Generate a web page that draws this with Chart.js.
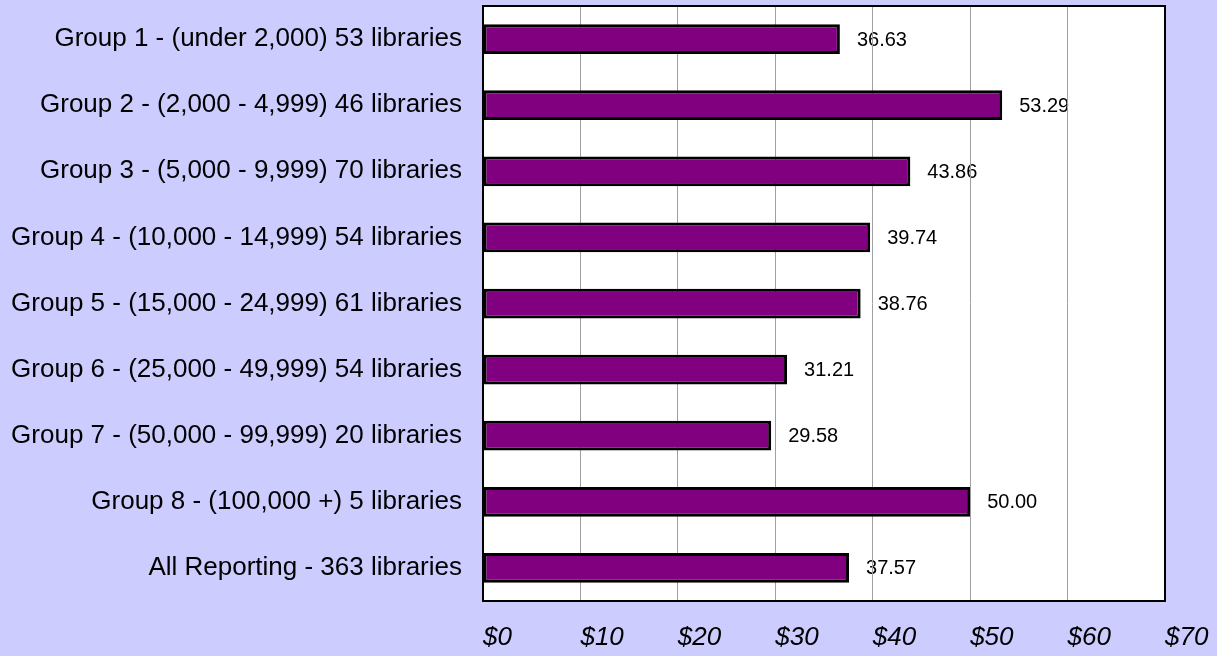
<!DOCTYPE html>
<html>
<head>
<meta charset="utf-8">
<script src="https://cdn.jsdelivr.net/npm/chart.js@4/dist/chart.umd.min.js"></script>
<style>
  html, body { margin: 0; padding: 0; background: #ccccff; }
  #wrap { width: 1217px; height: 656px; }
</style>
</head>
<body>
<div id="wrap"><canvas id="c" width="1217" height="656"></canvas></div>
<script>
const categories = [
  "Group 1 - (under 2,000) 53 libraries",
  "Group 2 - (2,000 - 4,999) 46 libraries",
  "Group 3 - (5,000 - 9,999) 70 libraries",
  "Group 4 - (10,000 - 14,999) 54 libraries",
  "Group 5 - (15,000 - 24,999) 61 libraries",
  "Group 6 - (25,000 - 49,999) 54 libraries",
  "Group 7 - (50,000 - 99,999) 20 libraries",
  "Group 8 - (100,000 +) 5 libraries",
  "All Reporting - 363 libraries"
];
const values = [36.63, 53.29, 43.86, 39.74, 38.76, 31.21, 29.58, 50.00, 37.57];
const xTickLabels = ["$0", "$10", "$20", "$30", "$40", "$50", "$60", "$70"];

const plotBg = {
  id: 'plotBg',
  beforeDraw(chart) {
    const {ctx, chartArea: a} = chart;
    ctx.save();
    ctx.fillStyle = '#ffffff';
    ctx.fillRect(a.left, a.top, a.right - a.left, a.bottom - a.top);
    // value labels drawn under the grid lines, as in the reference
    const meta = chart.getDatasetMeta(0);
    ctx.fillStyle = '#000000';
    ctx.font = '20px "Liberation Sans", Arial, sans-serif';
    ctx.textAlign = 'left';
    ctx.textBaseline = 'middle';
    meta.data.forEach((bar, i) => {
      ctx.fillText(values[i].toFixed(2), bar.x + 17, bar.y + 1);
    });
    ctx.restore();
  },
  afterDraw(chart) {
    const {ctx, chartArea: a} = chart;
    ctx.save();
    ctx.strokeStyle = '#000000';
    ctx.lineWidth = 2;
    ctx.strokeRect(a.left, a.top, a.right - a.left, a.bottom - a.top);
    ctx.restore();
  }
};

new Chart(document.getElementById('c'), {
  type: 'bar',
  data: {
    labels: categories,
    datasets: [{
      data: values,
      backgroundColor: '#800080',
      borderColor: '#000000',
      borderWidth: 3,
      borderSkipped: false,
      barPercentage: 0.9,
      categoryPercentage: 0.5
    }]
  },
  options: {
    indexAxis: 'y',
    responsive: false,
    animation: false,
    devicePixelRatio: 1,
    layout: { padding: { top: 6, right: 52, bottom: 0, left: 0 } },
    plugins: {
      legend: { display: false },
      tooltip: { enabled: false }
    },
    scales: {
      x: {
        min: 0, max: 70,
        border: { display: false },
        grid: { color: '#a0a0a0', lineWidth: 1, drawTicks: false },
        ticks: {
          stepSize: 10,
          align: 'start',
          padding: 21,
          color: '#000000',
          font: { family: '"Liberation Sans", Arial, sans-serif', size: 26, style: 'italic' },
          maxRotation: 0, minRotation: 0,
          callback: (v, i) => xTickLabels[i]
        },
        afterFit(scale) {
          scale.paddingLeft = 0;
          scale.paddingRight = 0;
          scale.height = 55;
        }
      },
      y: {
        border: { display: false },
        grid: { display: false, drawTicks: false },
        ticks: {
          padding: 21,
          color: '#000000',
          font: { family: '"Liberation Sans", Arial, sans-serif', size: 26 }
        },
        afterFit(scale) {
          scale.width = 483;
          scale.paddingTop = 0;
          scale.paddingBottom = 0;
        }
      }
    }
  },
  plugins: [plotBg]
});
</script>
</body>
</html>
